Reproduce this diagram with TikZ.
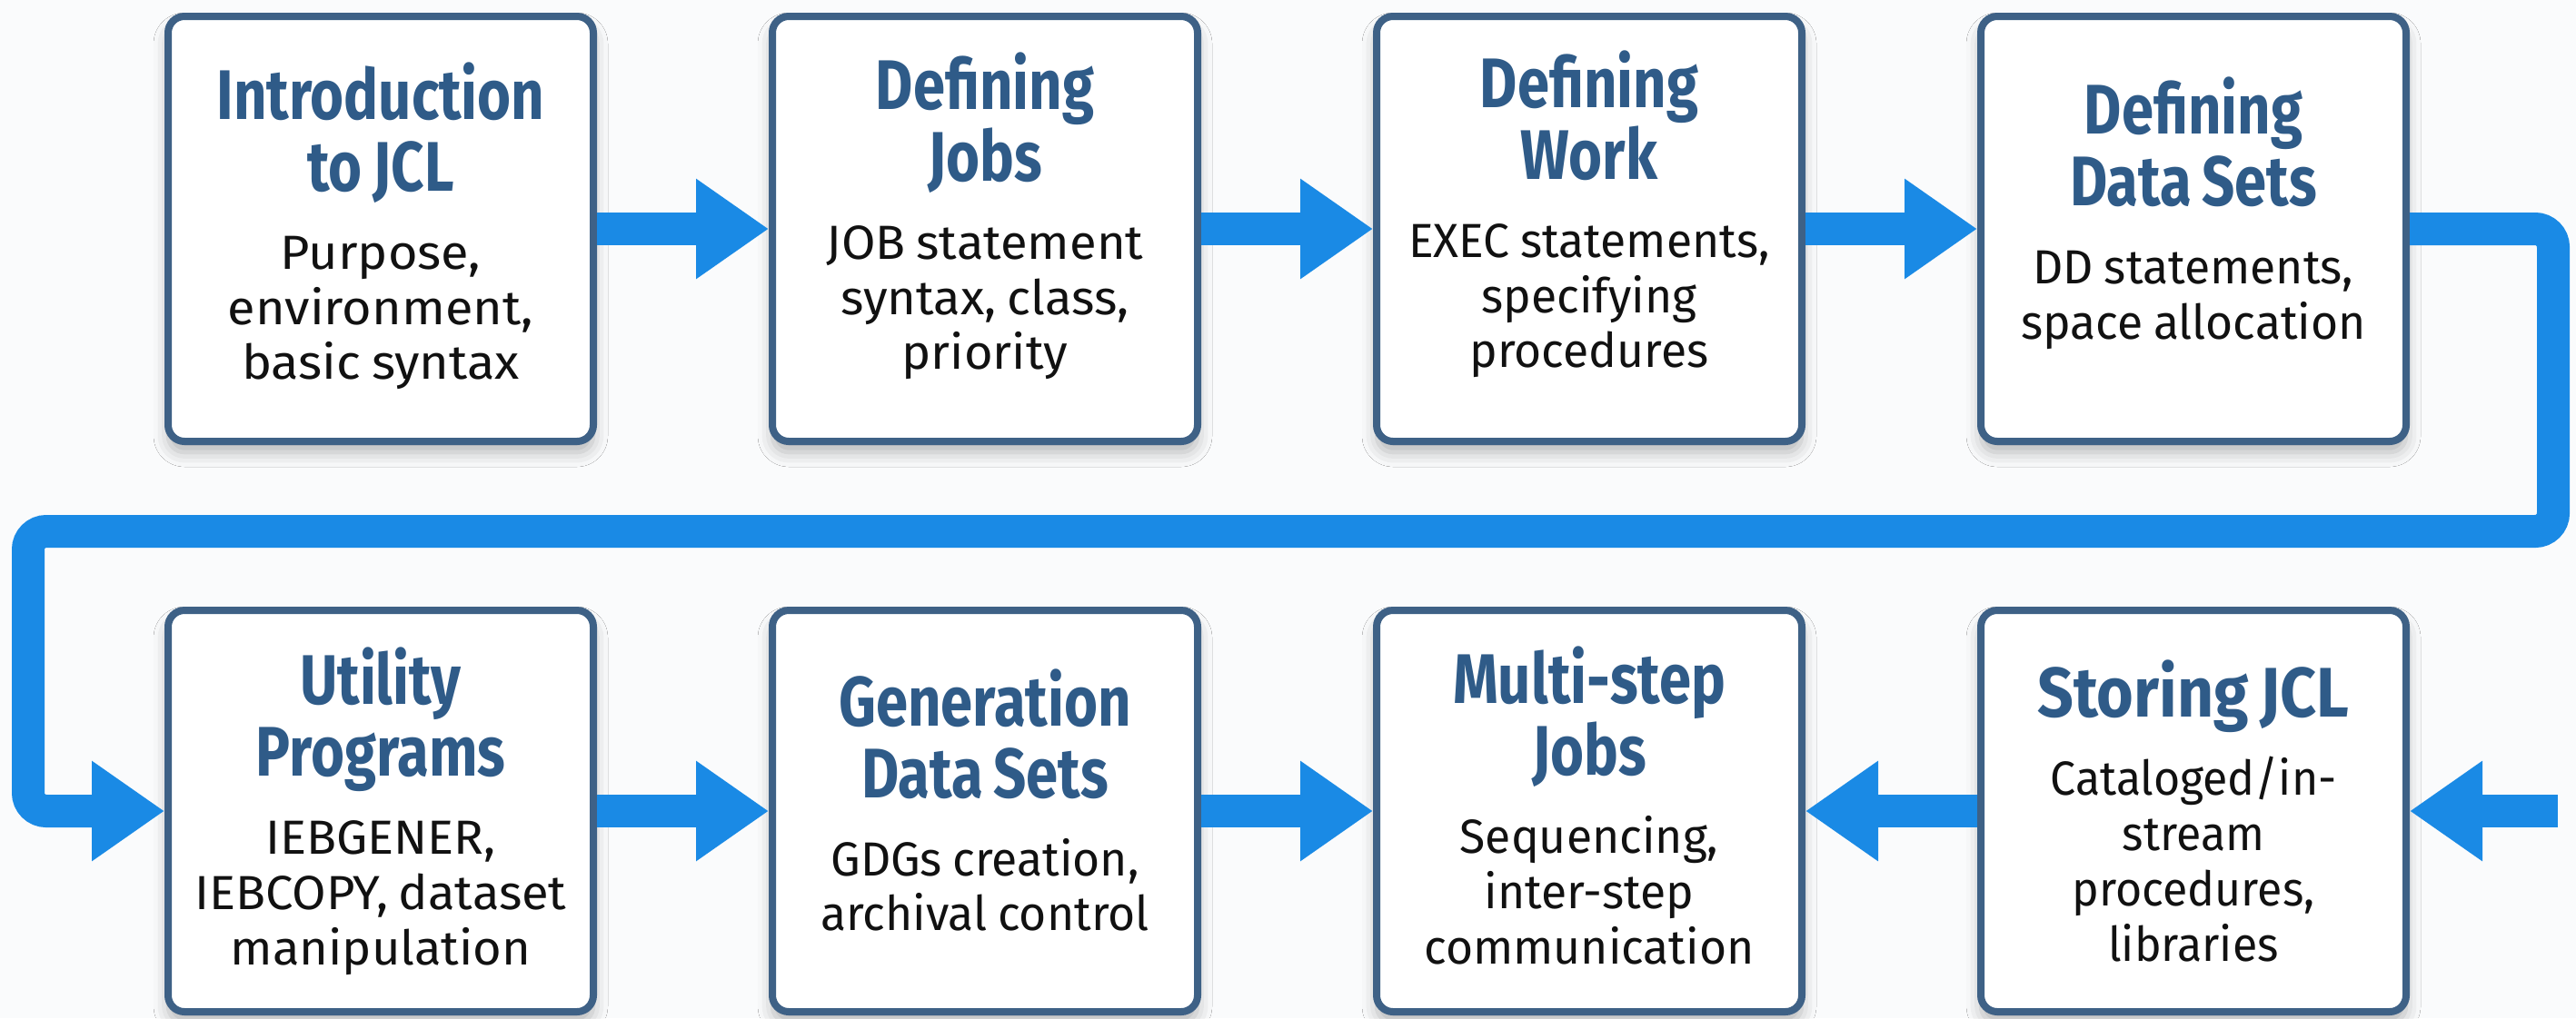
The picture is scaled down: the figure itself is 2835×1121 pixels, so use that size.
\documentclass[tikz,border=0pt]{standalone}
\usepackage{fontspec}
\usepackage{graphicx}
\setmainfont{Fira Sans}
\newfontfamily\titlefont{Fira Sans}[FakeStretch=0.82]
\newfontfamily\bodyfont{Fira Sans}[FakeStretch=0.98]
\usetikzlibrary{arrows.meta,shadows.blur}
\definecolor{bgc}{HTML}{FAFBFC}
\definecolor{borderc}{HTML}{3E6186}
\definecolor{titlec}{HTML}{2F5B88}
\definecolor{flowc}{HTML}{1A8AE5}
\definecolor{textc}{HTML}{111111}
% #1 body stretch, #2 title, #3 body
\newcommand{\boxtext}[3]{{\titlefont\bfseries\fontsize{22}{22.5}\selectfont\color{titlec}#2\par}\vspace{2.5mm}{\bodyfont\addfontfeature{FakeStretch=#1}\fontsize{15}{17.3}\selectfont\color{textc}#3\par}}
\tikzset{
  jbox/.style={draw=borderc, line width=0.8mm, fill=white, rounded corners=1.8mm,
    minimum width=46.8mm, inner sep=0pt,
    blur shadow={shadow xshift=0mm, shadow yshift=-1.2mm, shadow blur radius=1.6mm, shadow opacity=28}},
  toprow/.style={jbox, minimum height=46.8mm},
  botrow/.style={jbox, minimum height=44.2mm},
  jtext/.style={text width=46.5mm, align=center, inner sep=0pt},
  flow/.style={draw=flowc, line width=3.6mm, -{Triangle[length=8mm,width=10.5mm]}}
}
\begin{document}
\begin{tikzpicture}[x=0.1mm,y=-0.1mm]
\useasboundingbox (0,0) rectangle (2835,1121);
\fill[bgc] (0,0) rectangle (2835,1121);
% boxes
\node[toprow] (b1) at (419,252) {};
\node[toprow] (b2) at (1084,252) {};
\node[toprow] (b3) at (1749,252) {};
\node[toprow] (b4) at (2414,252) {};
\node[botrow] (b5) at (419,893) {};
\node[botrow] (b6) at (1084,893) {};
\node[botrow] (b7) at (1749,893) {};
\node[botrow] (b8) at (2414,893) {};
% texts
\node[jtext, yshift=0.3mm] (t1) at (b1.center) {\boxtext{1.06}{Introduction\\to JCL}{Purpose,\\environment,\\basic syntax}};
\node[jtext, yshift=1.4mm] (t2) at (b2.center) {\boxtext{1.03}{Defining\\Jobs}{JOB statement\\syntax, class,\\priority}};
\node[jtext, yshift=1.6mm] (t3) at (b3.center) {\boxtext{0.98}{Defining\\Work}{EXEC statements,\\specifying\\procedures}};
\node[jtext, yshift=1.7mm] (t4) at (b4.center) {\boxtext{0.98}{Defining\\Data Sets}{DD statements,\\space allocation}};
\node[jtext] (t5) at (b5.center) {\boxtext{1.03}{Utility\\Programs}{IEBGENER,\\IEBCOPY, dataset\\manipulation}};
\node[jtext, yshift=1.2mm] (t6) at (b6.center) {\boxtext{0.98}{Generation\\Data Sets}{GDGs creation,\\archival control}};
\node[jtext, yshift=0.6mm] (t7) at (b7.center) {\boxtext{0.98}{Multi-step\\Jobs}{Sequencing,\\inter-step\\communication}};
\node[jtext] (t8) at (b8.center) {\boxtext{0.95}{\scalebox{1.1}[1]{Storing JCL}}{Cataloged/in-\\stream\\procedures,\\libraries}};
% free coordinates
\coordinate (cR) at (2810,585);
\coordinate (cL) at (31,585);
\coordinate (cE) at (2815,893);
% connectors
\draw[flow] (b1.east) -- (b2.west);
\draw[flow] (b2.east) -- (b3.west);
\draw[flow] (b3.east) -- (b4.west);
\draw[flow, rounded corners=2mm] (b4.east) -| (cR) -- (cL) |- (b5.west);
\draw[flow] (b5.east) -- (b6.west);
\draw[flow] (b6.east) -- (b7.west);
\draw[flow] (b8.west) -- (b7.east);
\draw[flow] (cE) -- (b8.east);
\end{tikzpicture}
\end{document}
